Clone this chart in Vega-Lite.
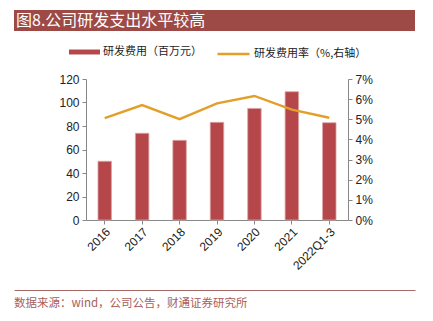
{
  "$schema": "https://vega.github.io/schema/vega-lite/v6.json",
  "background": "white",
  "padding": {"left": 14, "top": 10, "right": 18, "bottom": 2},
  "spacing": 0,
  "columns": 1,
  "align": "none",
  "bounds": "full",
  "config": {
    "view": {"stroke": null},
    "font": "Liberation Sans",
    "axis": {"labelFont": "Liberation Sans"}
  },
  "concat": [
    {
      "width": 401,
      "height": 21,
      "view": {"fill": "#9D4A46", "stroke": null},
      "data": {"values": [{"x": 0, "t": "图8.公司研发支出水平较高"}]},
      "mark": {"type": "text", "align": "left", "baseline": "middle", "color": "white", "fontSize": 16, "font": "Noto Sans CJK SC", "dx": 2},
      "encoding": {
        "x": {"field": "x", "type": "quantitative", "scale": {"domain": [0, 1]}, "axis": null},
        "text": {"field": "t"}
      }
    },
    {
      "width": 334,
      "height": 141,
      "title": {"text": " ", "fontSize": 10, "offset": 32, "anchor": "start"},
      "data": {"values": [
        {"period": "2016", "expense": 50, "rate": 5.06},
        {"period": "2017", "expense": 73.8, "rate": 5.71},
        {"period": "2018", "expense": 67.8, "rate": 5.01},
        {"period": "2019", "expense": 83.1, "rate": 5.79},
        {"period": "2020", "expense": 95, "rate": 6.16},
        {"period": "2021", "expense": 109.2, "rate": 5.48},
        {"period": "2022Q1-3", "expense": 82.8, "rate": 5.08}
      ]},
      "encoding": {
        "x": {
          "field": "period", "type": "nominal", "sort": null,
          "scale": {"paddingInner": 0.64, "paddingOuter": 0.32, "range": [72, 334]},
          "axis": {"title": null, "labelAngle": -45, "domainColor": "#888888", "tickColor": "#888888", "tickSize": 4, "labelFontSize": 12, "labelColor": "#222222", "labelPadding": 2, "minExtent": 70}
        }
      },
      "layer": [
        {
          "mark": {"type": "bar", "stroke": "#DDA3A3", "strokeWidth": 0.8},
          "encoding": {
            "y": {
              "field": "expense", "type": "quantitative",
              "scale": {"domain": [0, 120]},
              "axis": {"title": null, "offset": -72, "values": [0, 20, 40, 60, 80, 100, 120], "grid": false, "domainColor": "#888888", "tickColor": "#888888", "tickSize": 4, "labelFontSize": 12, "labelColor": "#222222", "labelPadding": 3}
            },
            "fill": {
              "datum": "研发费用（百万元）", "type": "nominal",
              "scale": {"range": ["#B5474A"]},
              "legend": {"orient": "none", "legendX": 49.5, "legendY": 21, "padding": 5.5, "title": null, "symbolType": "M-1,-0.16L1,-0.16L1,0.16L-1,0.16Z", "symbolSize": 961, "symbolStrokeWidth": 0, "labelFontSize": 11, "labelFont": "Noto Sans CJK SC", "labelColor": "#222222", "labelOffset": 3}
            }
          }
        },
        {
          "mark": {"type": "line", "strokeWidth": 2.5},
          "encoding": {
            "y": {
              "field": "rate", "type": "quantitative",
              "scale": {"domain": [0, 7]},
              "axis": {"orient": "right", "title": null, "values": [0, 1, 2, 3, 4, 5, 6, 7], "labelExpr": "datum.value + '%'", "grid": false, "domainColor": "#888888", "tickColor": "#888888", "tickSize": 4, "labelFontSize": 12, "labelColor": "#222222", "labelPadding": 3}
            },
            "stroke": {
              "datum": "研发费用率（%,右轴）", "type": "nominal",
              "scale": {"range": ["#E2A02A"]},
              "legend": {"orient": "none", "legendX": 196.5, "legendY": 21, "padding": 5.5, "title": null, "symbolType": "stroke", "symbolSize": 1024, "symbolStrokeWidth": 2.5, "labelFontSize": 11, "labelFont": "Noto Sans CJK SC", "labelColor": "#222222", "labelOffset": 3}
            }
          }
        }
      ],
      "resolve": {"scale": {"y": "independent"}}
    },
    {
      "width": 401,
      "height": 28,
      "data": {"values": [{"x": 0, "t": "数据来源：wind，公司公告，财通证券研究所"}]},
      "mark": {"type": "text", "align": "left", "baseline": "middle", "color": "#A8605C", "fontSize": 11.5, "font": "Noto Sans CJK SC"},
      "encoding": {
        "x": {"field": "x", "type": "quantitative", "scale": {"domain": [0, 1]}, "axis": {"orient": "top", "labels": false, "ticks": false, "grid": false, "domainColor": "#A86A66", "domainWidth": 1.2, "title": null}},
        "text": {"field": "t"}
      }
    }
  ]
}
